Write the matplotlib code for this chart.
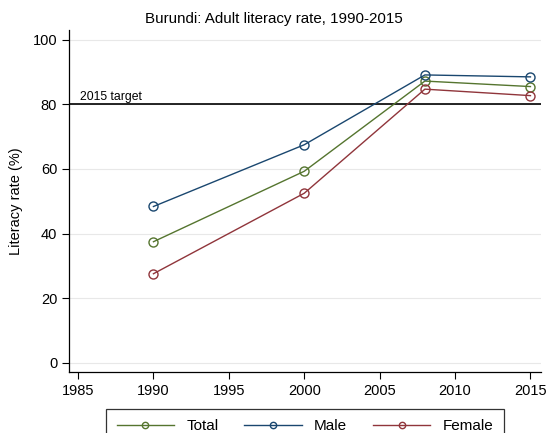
import matplotlib
matplotlib.use("Agg")
import matplotlib.pyplot as plt

years = [1990, 2000, 2008, 2015]
total = [37.5, 59.3, 87.2, 85.5]
male = [48.4, 67.5, 89.1, 88.5]
female = [27.6, 52.5, 84.7, 82.7]
series_names = ["Total", "Male", "Female"]
colors = ["#55752f", "#1a476f", "#90353b"]
xticks = [1985, 1990, 1995, 2000, 2005, 2010, 2015]
yticks = [0, 20, 40, 60, 80, 100]
target = 80

plt.rcParams['font.family'] = ['Liberation Sans', 'DejaVu Sans']

fig = plt.figure(figsize=(5.48, 4.33), dpi=100)
ax = fig.add_axes([69/548, 1-372/433, (541-69)/548, (372-30)/433])

for y in yticks:
    ax.axhline(y, color="#e8e8e8", lw=0.8, zorder=0)

for vals, name, c in zip([total, male, female], series_names, colors):
    ax.plot(years, vals, color=c, lw=1.0, marker='o', markersize=6.5,
            markerfacecolor='none', markeredgecolor=c, markeredgewidth=1.0,
            label=name, zorder=3)

ax.axhline(target, color='black', lw=1.2, zorder=2)
ax.text(1985.1, target + 0.3, "2015 target", fontsize=8.8, va='bottom', ha='left')

ax.set_xlim(1984.4, 2015.7)
ax.set_ylim(-2.8, 103)
ax.set_xticks(xticks)
ax.set_yticks(yticks)
ax.tick_params(direction='out', length=5, width=0.8, labelsize=10.5, colors='black')
for s in ['top', 'right']:
    ax.spines[s].set_visible(False)
for s in ['left', 'bottom']:
    ax.spines[s].set_linewidth(0.9)
ax.set_ylabel("Literacy rate (%)", fontsize=10.5, labelpad=7)

fig.text(0.5, 1-23/433, "Burundi: Adult literacy rate, 1990-2015", ha='center', va='baseline', fontsize=10.9)

leg = ax.legend(loc='upper center', bbox_to_anchor=(305/548, 1-408.5/433),
                bbox_transform=fig.transFigure, ncol=3, fontsize=11,
                handlelength=3.75, handletextpad=0.8, columnspacing=1.7,
                markerscale=0.7, borderaxespad=0, borderpad=0.7,
                frameon=True, fancybox=False, edgecolor='black')
leg.get_frame().set_linewidth(0.9)

fig.savefig("out.png", dpi=100)
